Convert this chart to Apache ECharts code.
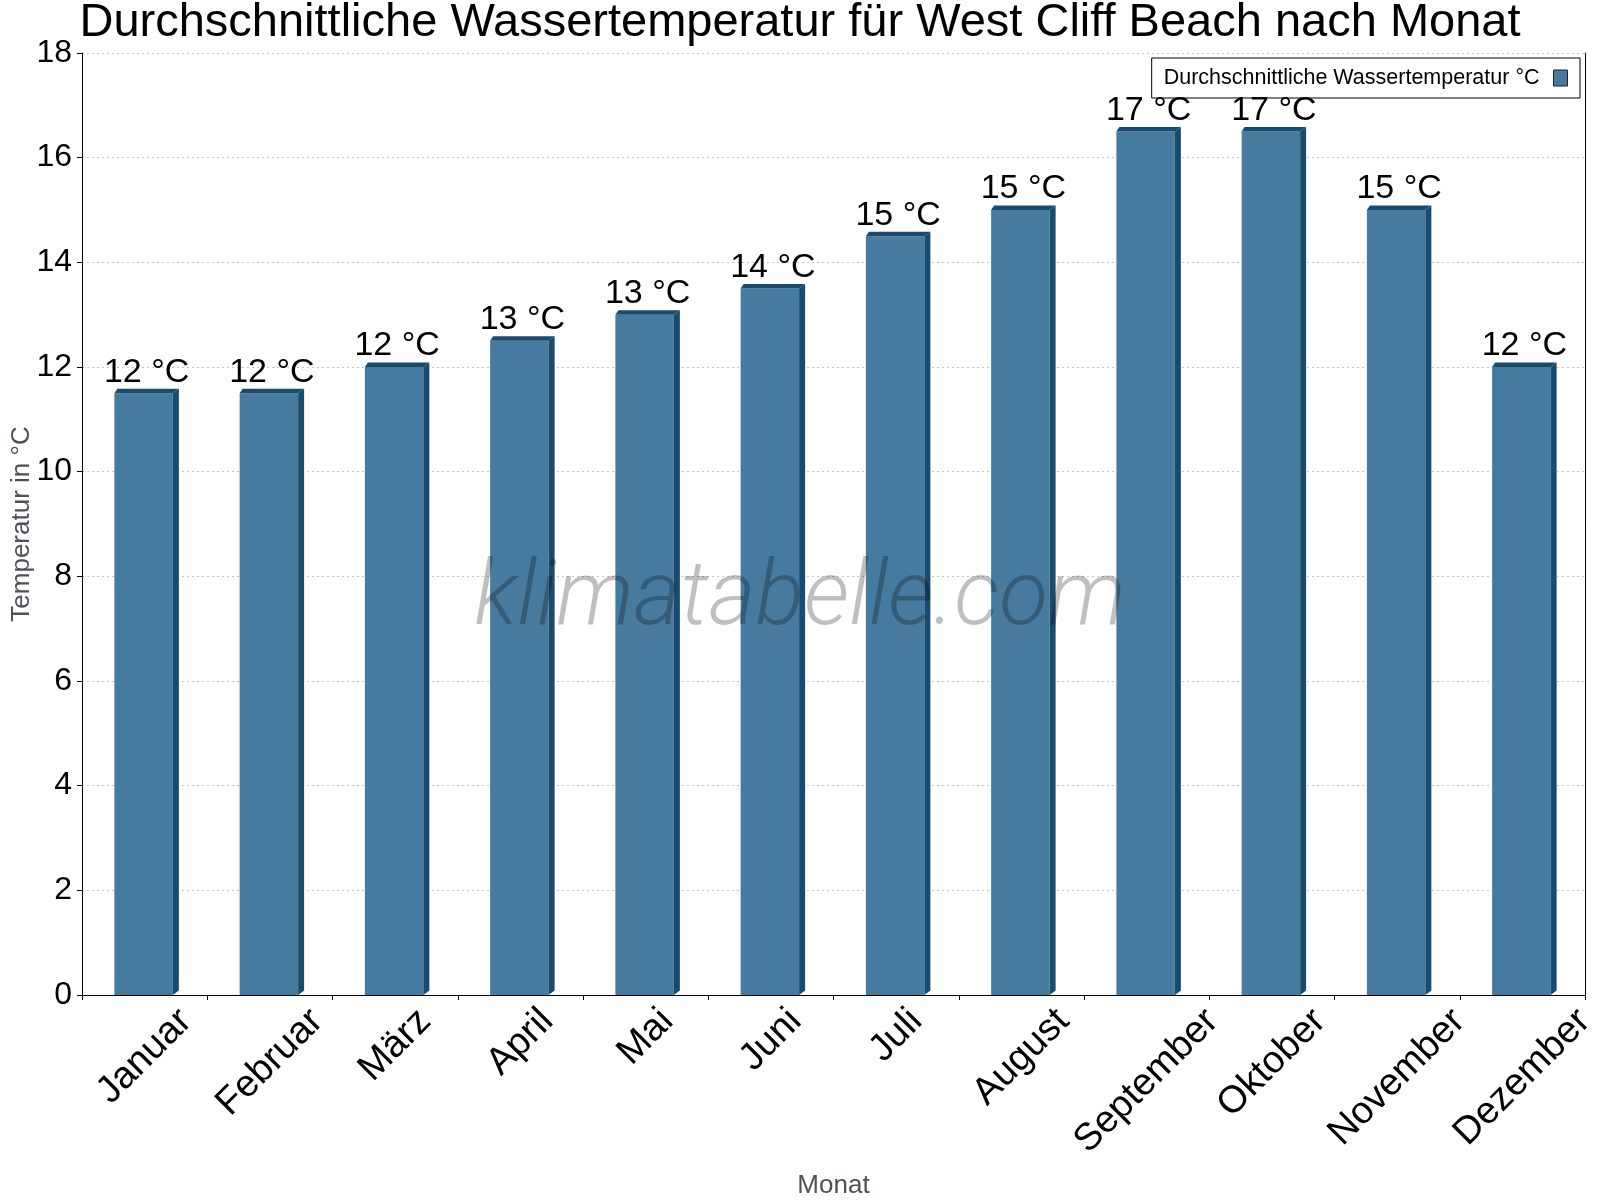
<!DOCTYPE html>
<html>
<head>
<meta charset="utf-8">
<title>Wassertemperatur West Cliff Beach</title>
<script src="https://cdn.jsdelivr.net/npm/echarts@6/dist/echarts.min.js"></script>
<style>
  html, body { margin: 0; padding: 0; background: #fff; }
  #chart { width: 1600px; height: 1200px; }
</style>
</head>
<body>
<div id="chart"></div>
<script>
/* Average water temperature per month - 3D-ish bars */

const months = ['Januar', 'Februar', 'März', 'April', 'Mai', 'Juni', 'Juli',
  'August', 'September', 'Oktober', 'November', 'Dezember'];
const waterTemps = [11.5, 11.5, 12, 12.5, 13, 13.5, 14.5, 15, 16.5, 16.5, 15, 12];
const seriesName = 'Durchschnittliche Wassertemperatur °C';

const FONT = '"Liberation Sans", Arial, sans-serif';
const FRONT = '#467b9f';
const DARK = '#194b6e';
const LABEL_SIZE = 34;
const MONTH_SIZE = 38;

const chart = echarts.init(document.getElementById('chart'), null, { renderer: 'canvas' });

// rotated month labels are centred on their category with a fixed top edge,
// so every label gets its own padding to push it down by half its diagonal
const measureCtx = document.createElement('canvas').getContext('2d');
measureCtx.font = MONTH_SIZE + 'px ' + FONT;
const labelMargin = 8;
const labelTop = 7;
const monthRich = {};
months.forEach((m, i) => {
  const w = measureCtx.measureText(m).width;
  const s = labelTop + 0.3536 * (w + MONTH_SIZE) - labelMargin;
  const p = Math.max(0, 1.4142 * s);
  monthRich['m' + i] = {
    fontSize: MONTH_SIZE, fontFamily: FONT, color: '#000',
    lineHeight: MONTH_SIZE, padding: [p, p, 0, 0]
  };
});

function renderBar(params, api) {
  const idx = api.value(0);
  const v = api.value(1);
  const top = api.coord([idx, v]);
  const base = api.coord([idx, 0]);
  const bw = api.size([1, 0])[0] * 0.467;
  const xl = top[0] - bw / 2 - 1;
  const xr = xl + bw;
  const dx = 6, dy = 4.5;
  return {
    type: 'group',
    children: [
      { type: 'rect', shape: { x: xl, y: top[1], width: bw, height: base[1] - top[1] },
        style: { fill: FRONT } },
      { type: 'polygon',
        shape: { points: [[xr, top[1]], [xr + dx, top[1] - dy], [xr + dx, base[1] - dy], [xr, base[1]]] },
        style: { fill: DARK } },
      { type: 'polygon',
        shape: { points: [[xl, top[1]], [xl + 3, top[1] - dy], [xr + dx, top[1] - dy], [xr, top[1]]] },
        style: { fill: DARK } },
      { type: 'text', x: (xl + xr + dx) / 2, y: top[1] - 4,
        style: { text: Math.round(v) + ' °C', fontSize: LABEL_SIZE, fontFamily: FONT,
          fill: '#000', align: 'center', verticalAlign: 'bottom' } }
    ]
  };
}

const option = {
  animation: false,
  backgroundColor: '#fff',
  title: {
    text: 'Durchschnittliche Wassertemperatur für West Cliff Beach nach Monat',
    left: 'center', top: 0, padding: 0,
    textStyle: { fontSize: 47, fontWeight: 'normal', color: '#000', fontFamily: FONT }
  },
  legend: {
    right: 20, top: 58,
    align: 'right',
    padding: [9, 12, 9, 12],
    borderColor: '#000', borderWidth: 1,
    itemWidth: 14, itemHeight: 16,
    icon: 'rect',
    itemStyle: { borderColor: '#222', borderWidth: 1 },
    textStyle: { fontSize: 21.5, color: '#000', fontFamily: FONT, padding: [0, 9, 0, 0] },
    data: [seriesName]
  },
  grid: { left: 82, right: 15, top: 53, bottom: 205, outerBoundsMode: 'none' },
  xAxis: {
    type: 'category',
    data: months,
    name: 'Monat',
    nameLocation: 'middle',
    nameGap: 178,
    nameTextStyle: { fontSize: 26, color: '#4d5259', fontFamily: FONT },
    axisLine: { lineStyle: { color: '#000', width: 1 } },
    axisTick: { show: true, length: 5, lineStyle: { color: '#000' } },
    axisLabel: {
      interval: 0, rotate: 45, margin: labelMargin, hideOverlap: false,
      align: 'center', verticalAlign: 'middle',
      formatter: (val, i) => '{m' + i + '|' + val + '}',
      rich: monthRich
    },
    splitLine: { show: false }
  },
  yAxis: [{
    type: 'value',
    min: 0, max: 18, interval: 2,
    name: 'Temperatur in °C',
    nameLocation: 'middle',
    nameGap: 47,
    nameMoveOverlap: false,
    nameTextStyle: { fontSize: 26, color: '#4d5259', fontFamily: FONT },
    axisLine: { show: true, lineStyle: { color: '#000', width: 1 } },
    axisTick: { show: true, length: 5, lineStyle: { color: '#000' } },
    axisLabel: { fontSize: 32, color: '#000', fontFamily: FONT, margin: 10 },
    splitLine: { show: true, lineStyle: { color: '#c4c4c4', type: [2, 3], width: 1 } }
  }, {
    type: 'value',
    position: 'right',
    min: 0, max: 18, interval: 2,
    axisLine: { show: true, lineStyle: { color: '#000', width: 1 } },
    axisTick: { show: false },
    axisLabel: { show: false },
    splitLine: { show: false }
  }],
  series: [{
    name: seriesName,
    type: 'custom',
    itemStyle: { color: FRONT },
    renderItem: renderBar,
    encode: { x: 0, y: 1 },
    data: waterTemps.map((v, i) => [i, v]),
    z: 5
  }],
  graphic: [{
    type: 'text',
    x: 800, y: 601, z: 100, silent: true,
    style: {
      text: 'klimatabelle.com',
      fontSize: 90, fontStyle: 'italic', fontWeight: 300, fontFamily: 'Roboto',
      fill: 'rgba(0,0,0,0.25)', align: 'center', verticalAlign: 'middle'
    }
  }]
};

chart.setOption(option);
window.addEventListener('resize', () => chart.resize());
</script>
</body>
</html>
